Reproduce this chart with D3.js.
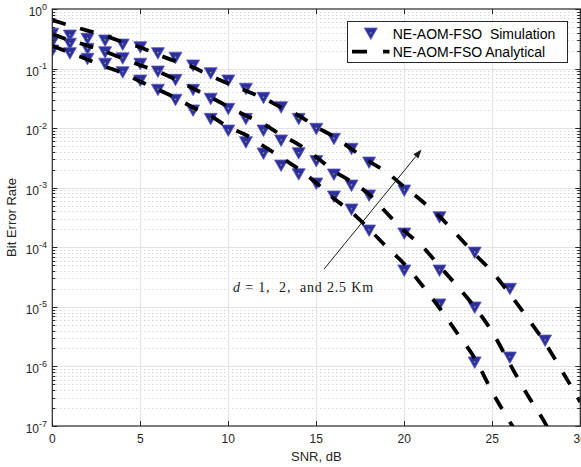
<!DOCTYPE html>
<html><head><meta charset="utf-8">
<script src="https://cdn.jsdelivr.net/npm/d3@7/dist/d3.min.js"></script>
<style>body{margin:0;background:#fff}svg{display:block}</style>
</head><body><svg id="c" width="581" height="467"></svg>
<script>
// ---- data ----
const xTicks = [0, 5, 10, 15, 20, 25, 30];
const yDecades = [-7, -6, -5, -4, -3, -2, -1, 0];
const snrSim = [0,1,2,3,4,5,6,7,8,9,10,11,12,13,14,15,16,17,18,20,22,24,26,28];
const simTop = [0.391,0.366,0.322,0.302,0.258,0.233,0.185,0.155,0.115,0.0853,0.0643,0.0467,0.033,0.0229,0.0146,0.00994,0.00675,0.00459,0.0027,9.15e-4,3.26e-4,8.3e-5,2.05e-5,2.77e-6];
const simMid = [0.283,0.266,0.219,0.192,0.152,0.123,0.091,0.066,0.0449,0.0317,0.0215,0.0146,0.0093,0.00632,0.00387,0.00286,0.0017,0.00111,7.55e-4,1.74e-4,4.16e-5,9.95e-6,1.44e-6];
const simBot = [0.205,0.185,0.149,0.123,0.0886,0.0643,0.0449,0.0305,0.0202,0.0146,0.0093,0.00592,0.00383,0.0024,0.00172,0.0012,7.26e-4,4.4e-4,1.95e-4,4.16e-5,1.12e-5,1.19e-6];
const snrAna = d3.range(0, 31);
const anaTop = [0.653,0.528,0.434,0.356,0.279,0.227,0.1716,0.1324,0.105,0.075,0.0562,0.0425,0.032,0.0223,0.0163,0.01045,0.00718,0.00447,0.00278,0.00181,0.00103,5.98e-4,3.29e-4,1.61e-4,7.71e-5,3.85e-5,1.64e-5,6.5e-6,2.47e-6,8.05e-7,2.53e-7];
const anaMid = [0.380,0.298,0.244,0.1935,0.1476,0.1135,0.0893,0.0658,0.0463,0.033,0.0229,0.0163,0.01174,0.00767,0.00531,0.00328,0.00191,0.00126,7.75e-4,3.76e-4,1.88e-4,1.05e-4,4.85e-5,2.24e-5,9.95e-6,3.79e-6,1.1e-6,3.31e-7,1.12e-7,3e-8,8.5e-9];
const anaBot = [0.241,0.1847,0.142,0.1083,0.0842,0.0607,0.0445,0.0321,0.0222,0.016,0.01045,0.00767,0.00501,0.00321,0.00206,0.0012,6.59e-4,3.91e-4,2.03e-4,1.01e-4,5.24e-5,2.33e-5,9.57e-6,3.64e-6,1.38e-6,3.7e-7,1.17e-7,3.95e-8,1.02e-8,3e-9,8e-10];
const legendLabels = ["NE-AOM-FSO  Simulation", "NE-AOM-FSO Analytical"];
const xLabel = "SNR, dB", yLabel = "Bit Error Rate";

// ---- layout ----
const m = {l: 52.3, r: 580.3, t: 9, b: 426};
const svg = d3.select("#c");
const x = d3.scaleLinear().domain([0, 30]).range([m.l, m.r]);
const y = d3.scaleLog().domain([1e-7, 1]).range([m.b, m.t]);
const font = "'Liberation Sans', Arial, Helvetica, sans-serif";
const axisCol = "#262626";

svg.append("defs").append("clipPath").attr("id", "clip")
  .append("rect").attr("x", m.l).attr("y", m.t).attr("width", m.r - m.l).attr("height", m.b - m.t);

// grid
const gGrid = svg.append("g");
const minors = [];
yDecades.slice(0, -1).forEach(e => { for (let k = 2; k <= 9; k++) minors.push(k * Math.pow(10, e)); });
gGrid.selectAll(".mn").data(minors).join("line")
  .attr("x1", m.l).attr("x2", m.r)
  .attr("y1", d => Math.round(y(d)) + 0.5).attr("y2", d => Math.round(y(d)) + 0.5)
  .attr("stroke", "#c4c4c4").attr("stroke-dasharray", "1,3").attr("stroke-width", 1);
gGrid.selectAll(".mj").data(yDecades.slice(1, -1)).join("line")
  .attr("x1", m.l).attr("x2", m.r)
  .attr("y1", d => Math.round(y(Math.pow(10, d))) + 0.5).attr("y2", d => Math.round(y(Math.pow(10, d))) + 0.5)
  .attr("stroke", "#e3e3e3").attr("stroke-width", 1);
gGrid.selectAll(".vx").data(xTicks.slice(1, -1)).join("line")
  .attr("x1", d => Math.round(x(d)) + 0.5).attr("x2", d => Math.round(x(d)) + 0.5)
  .attr("y1", m.t).attr("y2", m.b)
  .attr("stroke", "#e3e3e3").attr("stroke-width", 1);

// markers (simulation)
const tri = "M-6.5,-5L6.5,-5L0,6.5Z";
const mFill = "#2f2f9c", mEdge = "#5a5ac4";
const gSim = svg.append("g").attr("clip-path", "url(#clip)");
[simTop, simMid, simBot].forEach(vals => {
  const pts = vals.map((v, i) => [snrSim[i], v]);
  const g = gSim.selectAll(null).data(pts).join("g")
    .attr("transform", d => `translate(${x(d[0])},${y(d[1])})`);
  g.append("path").attr("d", tri).attr("fill", mFill).attr("stroke", mEdge).attr("stroke-width", 0.8);
  g.append("circle").attr("r", 0.8).attr("fill", "#8fbf70");
});

// analytical curves
const line = d3.line().x(d => x(d[0])).y(d => y(d[1])).curve(d3.curveMonotoneX);
const gAna = svg.append("g").attr("clip-path", "url(#clip)");
[anaTop, anaMid, anaBot].forEach(vals => {
  gAna.append("path").attr("d", line(vals.map((v, i) => [snrAna[i], v])))
    .attr("fill", "none").attr("stroke", "#000").attr("stroke-width", 3.8)
    .attr("stroke-dasharray", "14,15");
});

// axes box + ticks
const gAx = svg.append("g").attr("stroke", axisCol);
gAx.append("rect").attr("x", m.l).attr("y", m.t).attr("width", m.r - m.l).attr("height", m.b - m.t)
  .attr("fill", "none").attr("stroke-width", 1.2);
xTicks.forEach(t => {
  const px = Math.round(x(t)) + 0.5;
  gAx.append("line").attr("x1", px).attr("x2", px).attr("y1", m.b).attr("y2", m.b - 5);
  gAx.append("line").attr("x1", px).attr("x2", px).attr("y1", m.t).attr("y2", m.t + 5);
});
yDecades.forEach(e => {
  const py = Math.round(y(Math.pow(10, e))) + 0.5;
  gAx.append("line").attr("x1", m.l).attr("x2", m.l + 5).attr("y1", py).attr("y2", py);
  gAx.append("line").attr("x1", m.r).attr("x2", m.r - 5).attr("y1", py).attr("y2", py);
});
minors.forEach(v => {
  const py = Math.round(y(v)) + 0.5;
  gAx.append("line").attr("x1", m.l).attr("x2", m.l + 3).attr("y1", py).attr("y2", py);
  gAx.append("line").attr("x1", m.r).attr("x2", m.r - 3).attr("y1", py).attr("y2", py);
});

// tick labels
const gT = svg.append("g").attr("font-family", font).attr("fill", axisCol);
xTicks.forEach(t => {
  gT.append("text").attr("x", x(t)).attr("y", m.b + 16.5).attr("text-anchor", "middle")
    .attr("font-size", 12).text(t);
});
yDecades.forEach(e => {
  const py = y(Math.pow(10, e));
  const t = gT.append("text").attr("x", 47).attr("y", py + 7).attr("text-anchor", "end").attr("font-size", 12);
  t.append("tspan").text("10");
  t.append("tspan").attr("dy", -6.5).attr("font-size", 9).text(e);
});
gT.append("text").attr("x", (m.l + m.r) / 2).attr("y", 461).attr("text-anchor", "middle")
  .attr("font-size", 13).text(xLabel);
gT.append("text").attr("transform", `translate(16,${(m.t + m.b) / 2}) rotate(-90)`)
  .attr("text-anchor", "middle").attr("font-size", 13).text(yLabel);

// legend
const lg = svg.append("g");
lg.append("rect").attr("x", 347.5).attr("y", 21.5).attr("width", 220).attr("height", 41)
  .attr("fill", "#fff").attr("stroke", axisCol).attr("stroke-width", 1);
const lm = lg.append("g").attr("transform", "translate(370.8,33)");
lm.append("path").attr("d", tri).attr("fill", mFill).attr("stroke", mEdge).attr("stroke-width", 0.8);
lm.append("circle").attr("r", 0.8).attr("fill", "#8fbf70");
lg.append("line").attr("x1", 352).attr("x2", 389.5).attr("y1", 51.7).attr("y2", 51.7)
  .attr("stroke", "#000").attr("stroke-width", 3.8).attr("stroke-dasharray", "15,16");
lg.append("text").attr("x", 392.7).attr("y", 38.5).attr("font-family", font).attr("font-size", 14)
  .attr("fill", "#000").style("white-space", "pre").text(legendLabels[0]);
lg.append("text").attr("x", 392.7).attr("y", 56.7).attr("font-family", font).attr("font-size", 14)
  .attr("fill", "#000").style("white-space", "pre").text(legendLabels[1]);

// annotation arrow + text
const a0 = [15.44, 4.3e-5], a1 = [20.98, 4.4e-3];
const x0 = x(a0[0]), y0 = y(a0[1]), x1 = x(a1[0]), y1 = y(a1[1]);
const ang = Math.atan2(y1 - y0, x1 - x0);
const hl = 9, hw = 3.2;
const bx = x1 - hl * Math.cos(ang), by = y1 - hl * Math.sin(ang);
svg.append("line").attr("x1", x0).attr("y1", y0).attr("x2", bx).attr("y2", by)
  .attr("stroke", "#1a1a1a").attr("stroke-width", 1);
svg.append("path")
  .attr("d", `M${x1},${y1}L${bx + hw * Math.sin(ang)},${by - hw * Math.cos(ang)}L${bx - hw * Math.sin(ang)},${by + hw * Math.cos(ang)}Z`)
  .attr("fill", "#1a1a1a");
const at = svg.append("text").attr("x", x(10.27)).attr("y", 291.5)
  .attr("font-family", "'Liberation Serif', 'DejaVu Serif', serif").attr("font-size", 14)
  .attr("fill", "#1a1a1a").attr("textLength", 140).attr("lengthAdjust", "spacing")
  .style("white-space", "pre");
at.append("tspan").attr("font-style", "italic").text("d");
at.append("tspan").text(" = 1,  2,  and 2.5 Km");
</script></body></html>
